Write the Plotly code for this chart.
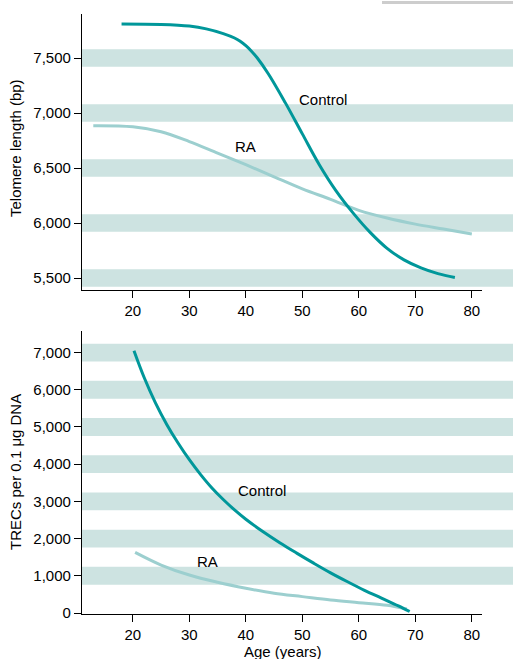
import plotly.graph_objects as go

# Top panel: telomere length (bp) vs age
tel_ctrl_age = [18, 25, 30, 33, 36, 38, 39, 40, 41, 42, 44, 47, 50, 53, 56, 59, 62, 65, 68, 71, 74, 77]
tel_ctrl_val = [7810, 7805, 7790, 7765, 7722, 7682, 7652, 7612, 7562, 7502, 7355, 7092, 6810, 6530, 6290, 6090, 5915, 5770, 5665, 5592, 5540, 5505]
tel_ra_age = [13, 20, 25, 30, 35, 40, 45, 50, 55, 60, 65, 70, 75, 80]
tel_ra_val = [6885, 6875, 6830, 6740, 6635, 6530, 6420, 6310, 6215, 6115, 6045, 5990, 5945, 5900]

# Bottom panel: TRECs per 0.1 ug DNA vs age
trec_ctrl_age = [20.2, 22, 24, 26, 28, 30, 32, 34, 36, 38, 40, 43, 46, 49, 52, 55, 58, 61, 64, 67, 69]
trec_ctrl_val = [7050, 6330, 5650, 5070, 4570, 4120, 3720, 3360, 3050, 2770, 2520, 2190, 1890, 1610, 1340, 1080, 840, 610, 400, 190, 40]
trec_ra_age = [20.4, 25, 30, 35, 40, 45, 50, 55, 60, 65, 68.5]
trec_ra_val = [1630, 1290, 1020, 825, 665, 530, 440, 350, 278, 207, 110]

x_ticks = [20, 30, 40, 50, 60, 70, 80]
tel_ticks = [5500, 6000, 6500, 7000, 7500]
tel_ticklabels = ["5,500", "6,000", "6,500", "7,000", "7,500"]
trec_ticks = [0, 1000, 2000, 3000, 4000, 5000, 6000, 7000]
trec_ticklabels = ["0", "1,000", "2,000", "3,000", "4,000", "5,000", "6,000", "7,000"]
tel_bands = [5500, 6000, 6500, 7000, 7500]
trec_bands = [1000, 2000, 3000, 4000, 5000, 6000, 7000]

CTRL = "#00979a"
RA = "#9ccfcf"
BAND = "#cde3e1"
FONT = "Liberation Sans, Arial, sans-serif"

fig = go.Figure()
fig.add_trace(go.Scatter(x=tel_ra_age, y=tel_ra_val, mode="lines", line=dict(color=RA, width=3, shape="spline"),
                         xaxis="x", yaxis="y", showlegend=False))
fig.add_trace(go.Scatter(x=tel_ctrl_age, y=tel_ctrl_val, mode="lines", line=dict(color=CTRL, width=3, shape="spline"),
                         xaxis="x", yaxis="y", showlegend=False))
fig.add_trace(go.Scatter(x=trec_ra_age, y=trec_ra_val, mode="lines", line=dict(color=RA, width=3, shape="spline"),
                         xaxis="x2", yaxis="y2", showlegend=False))
fig.add_trace(go.Scatter(x=trec_ctrl_age, y=trec_ctrl_val, mode="lines", line=dict(color=CTRL, width=3, shape="spline"),
                         xaxis="x2", yaxis="y2", showlegend=False))

shapes = []
for b in tel_bands:
    shapes.append(dict(type="rect", xref="paper", yref="y", x0=0, x1=1.08, y0=b - 80, y1=b + 80,
                       fillcolor=BAND, line=dict(width=0), layer="below"))
for b in trec_bands:
    shapes.append(dict(type="rect", xref="paper", yref="y2", x0=0, x1=1.08, y0=b - 240, y1=b + 240,
                       fillcolor=BAND, line=dict(width=0), layer="below"))
# faint grey smudge at top right of the scanned figure
shapes.append(dict(type="rect", xref="paper", yref="paper", x0=0.75, x1=1.08, y0=1.0167, y1=1.0217,
                   fillcolor="#b8b8b8", line=dict(width=0), opacity=0.7, layer="below"))

axis_common = dict(showgrid=False, zeroline=False, showline=True, linecolor="black", linewidth=1.3,
                   ticks="outside", ticklen=7, tickwidth=1.2, tickcolor="black",
                   tickfont=dict(family=FONT, size=15, color="black"))

fig.update_layout(
    width=513, height=659,
    margin=dict(l=82, r=31, t=14, b=45),
    paper_bgcolor="white", plot_bgcolor="rgba(0,0,0,0)",
    font=dict(family=FONT, size=14, color="black"),
    xaxis=dict(domain=[0, 1], anchor="y", range=[11, 81.8], tickvals=x_ticks, **axis_common),
    yaxis=dict(domain=[0.54, 1], anchor="x", range=[5391, 7900], tickvals=tel_ticks, ticktext=tel_ticklabels, **axis_common),
    xaxis2=dict(domain=[0, 1], anchor="y2", range=[11, 81.8], tickvals=x_ticks, **axis_common),
    yaxis2=dict(domain=[0, 0.4717], anchor="x2", range=[-27, 7581], tickvals=trec_ticks, ticktext=trec_ticklabels, **axis_common),
    shapes=shapes,
    annotations=[
        dict(text="Control", x=53.6, y=7127, xref="x", yref="y", showarrow=False, font=dict(size=15)),
        dict(text="RA", x=40, y=6694, xref="x", yref="y", showarrow=False, font=dict(size=15)),
        dict(text="Control", x=42.9, y=3306, xref="x2", yref="y2", showarrow=False, font=dict(size=15)),
        dict(text="RA", x=33.2, y=1379, xref="x2", yref="y2", showarrow=False, font=dict(size=15)),
        dict(text="Telomere length (bp)", x=-0.165, y=0.7767, xref="paper", yref="paper", showarrow=False,
             textangle=-90, xanchor="center", yanchor="middle", font=dict(size=15)),
        dict(text="TRECs per 0.1 μg DNA", x=-0.165, y=0.2367, xref="paper", yref="paper", showarrow=False,
             textangle=-90, xanchor="center", yanchor="middle", font=dict(size=15)),
        dict(text="Age (years)", x=(283 - 82) / 400, y=-0.063, xref="paper", yref="paper", showarrow=False,
             xanchor="center", yanchor="middle", font=dict(size=15)),
    ],
)

fig.write_html("out.html", config={"displayModeBar": False},
               post_script="document.body.style.margin='0';document.body.style.overflow='hidden';")
